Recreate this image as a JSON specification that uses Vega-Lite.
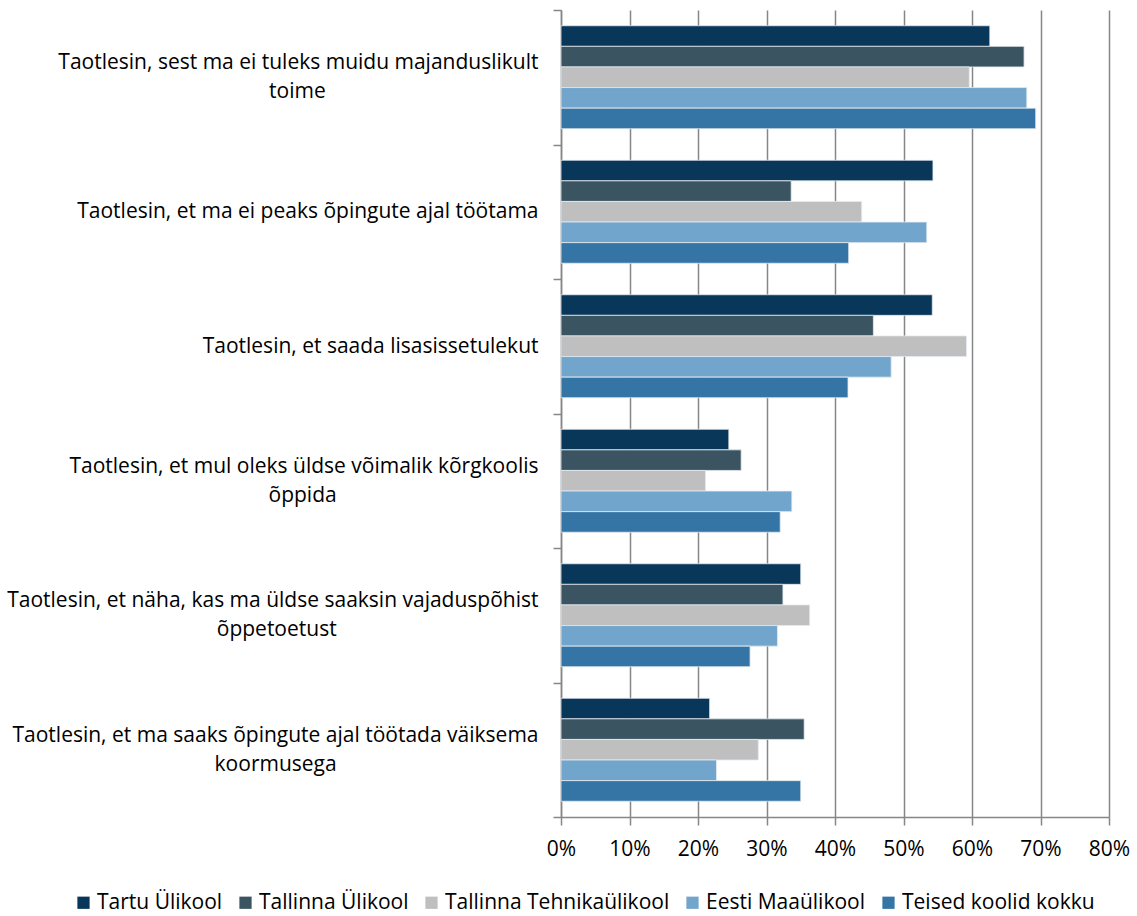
{
  "$schema": "https://vega.github.io/schema/vega-lite/v6.json",
  "width": 548,
  "height": 807,
  "autosize": {"type": "none"},
  "padding": {"left": 561, "top": 10, "right": 28, "bottom": 99},
  "background": "white",
  "data": {
    "values": [
      {"question": "Taotlesin, sest ma ei tuleks muidu majanduslikult toime", "school": "Tartu Ülikool", "value": 62.6},
      {"question": "Taotlesin, sest ma ei tuleks muidu majanduslikult toime", "school": "Tallinna Ülikool", "value": 67.6},
      {"question": "Taotlesin, sest ma ei tuleks muidu majanduslikult toime", "school": "Tallinna Tehnikaülikool", "value": 59.6},
      {"question": "Taotlesin, sest ma ei tuleks muidu majanduslikult toime", "school": "Eesti Maaülikool", "value": 68.0},
      {"question": "Taotlesin, sest ma ei tuleks muidu majanduslikult toime", "school": "Teised koolid kokku", "value": 69.3},
      {"question": "Taotlesin, et ma ei peaks õpingute ajal töötama", "school": "Tartu Ülikool", "value": 54.3},
      {"question": "Taotlesin, et ma ei peaks õpingute ajal töötama", "school": "Tallinna Ülikool", "value": 33.6},
      {"question": "Taotlesin, et ma ei peaks õpingute ajal töötama", "school": "Tallinna Tehnikaülikool", "value": 43.9},
      {"question": "Taotlesin, et ma ei peaks õpingute ajal töötama", "school": "Eesti Maaülikool", "value": 53.4},
      {"question": "Taotlesin, et ma ei peaks õpingute ajal töötama", "school": "Teised koolid kokku", "value": 42.0},
      {"question": "Taotlesin, et saada lisasissetulekut", "school": "Tartu Ülikool", "value": 54.2},
      {"question": "Taotlesin, et saada lisasissetulekut", "school": "Tallinna Ülikool", "value": 45.6},
      {"question": "Taotlesin, et saada lisasissetulekut", "school": "Tallinna Tehnikaülikool", "value": 59.2},
      {"question": "Taotlesin, et saada lisasissetulekut", "school": "Eesti Maaülikool", "value": 48.2},
      {"question": "Taotlesin, et saada lisasissetulekut", "school": "Teised koolid kokku", "value": 41.9},
      {"question": "Taotlesin, et mul oleks üldse võimalik kõrgkoolis õppida", "school": "Tartu Ülikool", "value": 24.5},
      {"question": "Taotlesin, et mul oleks üldse võimalik kõrgkoolis õppida", "school": "Tallinna Ülikool", "value": 26.3},
      {"question": "Taotlesin, et mul oleks üldse võimalik kõrgkoolis õppida", "school": "Tallinna Tehnikaülikool", "value": 21.1},
      {"question": "Taotlesin, et mul oleks üldse võimalik kõrgkoolis õppida", "school": "Eesti Maaülikool", "value": 33.7},
      {"question": "Taotlesin, et mul oleks üldse võimalik kõrgkoolis õppida", "school": "Teised koolid kokku", "value": 32.0},
      {"question": "Taotlesin, et näha, kas ma üldse saaksin vajaduspõhist õppetoetust", "school": "Tartu Ülikool", "value": 35.0},
      {"question": "Taotlesin, et näha, kas ma üldse saaksin vajaduspõhist õppetoetust", "school": "Tallinna Ülikool", "value": 32.4},
      {"question": "Taotlesin, et näha, kas ma üldse saaksin vajaduspõhist õppetoetust", "school": "Tallinna Tehnikaülikool", "value": 36.3},
      {"question": "Taotlesin, et näha, kas ma üldse saaksin vajaduspõhist õppetoetust", "school": "Eesti Maaülikool", "value": 31.6},
      {"question": "Taotlesin, et näha, kas ma üldse saaksin vajaduspõhist õppetoetust", "school": "Teised koolid kokku", "value": 27.6},
      {"question": "Taotlesin, et ma saaks õpingute ajal töötada väiksema koormusega", "school": "Tartu Ülikool", "value": 21.7},
      {"question": "Taotlesin, et ma saaks õpingute ajal töötada väiksema koormusega", "school": "Tallinna Ülikool", "value": 35.5},
      {"question": "Taotlesin, et ma saaks õpingute ajal töötada väiksema koormusega", "school": "Tallinna Tehnikaülikool", "value": 28.8},
      {"question": "Taotlesin, et ma saaks õpingute ajal töötada väiksema koormusega", "school": "Eesti Maaülikool", "value": 22.7},
      {"question": "Taotlesin, et ma saaks õpingute ajal töötada väiksema koormusega", "school": "Teised koolid kokku", "value": 35.0}
    ]
  },
  "mark": {"type": "bar", "stroke": "#e3ebf2", "strokeWidth": 0.8},
  "encoding": {
    "y": {
      "field": "question",
      "type": "nominal",
      "sort": null,
      "title": null,
      "scale": {"paddingInner": 0, "paddingOuter": 0},
      "axis": {
        "tickBand": "extent",
        "domainColor": "#868686",
        "domainWidth": 1.5,
        "tickColor": "#868686",
        "tickWidth": 1.5,
        "tickSize": 8,
        "labelFont": "Open Sans",
        "labelFontSize": 21,
        "labelColor": "#000000",
        "labelLimit": 700,
        "labelLineHeight": 14.5,
        "labelAlign": "right",
        "labelPadding": 15,
        "labelOffset": -14.5,
        "labelExpr": "length(datum.label) > 50 ? [substring(datum.label, 0, lastindexof(datum.label, ' ')), '\u200b', pad(substring(datum.label, lastindexof(datum.label, ' ') + 1), length(datum.label) - lastindexof(datum.label, ' ') - 1 + (length(datum.label) - lastindexof(datum.label, ' ') - 1 < 6 ? 39 : 37), '\u00a0') + '\u200b'] : ['\u200b', datum.label]"
      }
    },
    "yOffset": {
      "field": "school",
      "type": "nominal",
      "sort": ["Tartu Ülikool", "Tallinna Ülikool", "Tallinna Tehnikaülikool", "Eesti Maaülikool", "Teised koolid kokku"],
      "scale": {"paddingInner": 0, "paddingOuter": 0.765}
    },
    "x": {
      "field": "value",
      "type": "quantitative",
      "scale": {"domain": [0, 80]},
      "axis": {
        "title": null,
        "values": [0, 10, 20, 30, 40, 50, 60, 70, 80],
        "labelExpr": "datum.value + '%'",
        "labelFlush": false,
        "labelOverlap": false,
        "grid": true,
        "gridColor": "#868686",
        "gridWidth": 1.5,
        "domainColor": "#868686",
        "domainWidth": 1.5,
        "tickColor": "#868686",
        "tickWidth": 1.5,
        "tickSize": 8,
        "labelFont": "Open Sans",
        "labelFontSize": 21,
        "labelColor": "#000000",
        "labelPadding": 13
      }
    },
    "color": {
      "field": "school",
      "type": "nominal",
      "sort": ["Tartu Ülikool", "Tallinna Ülikool", "Tallinna Tehnikaülikool", "Eesti Maaülikool", "Teised koolid kokku"],
      "scale": {
        "domain": ["Tartu Ülikool", "Tallinna Ülikool", "Tallinna Tehnikaülikool", "Eesti Maaülikool", "Teised koolid kokku"],
        "range": ["#08375a", "#3a5561", "#bfbfbf", "#72a5cb", "#3475a6"]
      },
      "legend": {
        "title": null,
        "orient": "none",
        "direction": "horizontal",
        "legendX": -488,
        "legendY": 882,
        "symbolType": "square",
        "symbolSize": 150,
        "symbolStrokeWidth": 0,
        "labelFont": "Open Sans",
        "labelFontSize": 21,
        "labelColor": "#000000",
        "labelLimit": 400,
        "labelOffset": 3,
        "columnPadding": 12
      }
    }
  },
  "config": {"view": {"stroke": null}}
}
